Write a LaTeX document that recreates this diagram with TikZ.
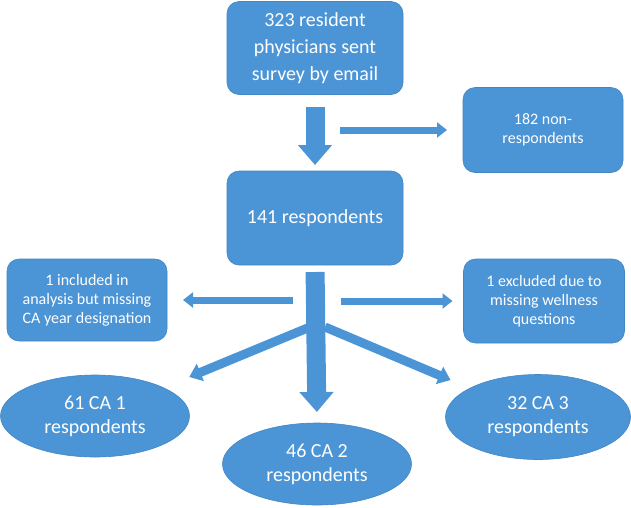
\documentclass[tikz,border=0pt]{standalone}
\usepackage{fontspec}
\setmainfont{Carlito}
\usepackage{xcolor}
\usetikzlibrary{shapes.geometric, arrows.meta, positioning, calc}
\definecolor{flowblue}{HTML}{4B94D6}
\definecolor{flowedge}{HTML}{4286C4}

\tikzset{
  flowbox/.style={rectangle, rounded corners=12pt, fill=flowblue, draw=flowedge,
    line width=0.6pt, text=white, align=center, inner sep=0pt, outer sep=0pt},
  flowoval/.style={ellipse, fill=flowblue, draw=flowedge, line width=0.6pt,
    text=white, align=center, inner sep=0pt, outer sep=0pt,
    font=\fontsize{20}{24}\selectfont},
  fatarrow/.style={draw=flowblue, line width=19pt, -{Triangle[width=33pt,length=20pt]}},
  sidearrow/.style={draw=flowblue, line width=7pt, -{Triangle[width=15pt,length=10pt]}},
  splitarrow/.style={draw=flowblue, line width=9pt, -{Triangle[width=18pt,length=12pt]}}
}

\begin{document}
\begin{tikzpicture}[x=1pt, y=-1pt]
    \useasboundingbox (0,0) rectangle (631,507);

    % Boxes
    \node[flowbox, minimum width=176pt, minimum height=93pt,
      font=\fontsize{20}{27}\selectfont] (sent) at (315,48)
      {323 resident\\physicians sent\\survey by email};
    \node[flowbox, minimum width=176pt, minimum height=94pt,
      font=\fontsize{20}{24}\selectfont] (resp) at (315,218)
      {141 respondents};
    \node[flowbox, minimum width=160pt, minimum height=85pt,
      font=\fontsize{16}{19}\selectfont] (nonresp) at (543,130)
      {182 non-\\respondents};
    \node[flowbox, minimum width=160pt, minimum height=82pt,
      font=\fontsize{16}{19}\selectfont] (incl) at (87,300)
      {1 included in\\analysis but missing\\CA year designation};
    \node[flowbox, minimum width=161pt, minimum height=84pt,
      font=\fontsize{16}{19}\selectfont] (excl) at (544,301)
      {1 excluded due to\\missing wellness\\questions};

    % CA groups
    \node[flowoval, minimum width=189pt, minimum height=82pt] (ca1) at (95,416)
      {61 CA 1\\respondents};
    \node[flowoval, minimum width=189pt, minimum height=82pt] (ca2) at (317,464)
      {46 CA 2\\respondents};
    \node[flowoval, minimum width=185pt, minimum height=85pt] (ca3) at (538,417)
      {32 CA 3\\respondents};

    % Arrows
    \draw[fatarrow, shorten <=12pt, shorten >=6pt] (sent.south) -- (resp.north);
    \draw[sidearrow, shorten <=25pt, shorten >=16pt] (resp.center |- nonresp.west) -- (nonresp.west);
    \draw[fatarrow, shorten <=7pt, shorten >=11pt] (resp.south) -- (ca2.north);
    \draw[sidearrow, shorten <=22pt, shorten >=16pt] (resp.south |- incl.east) -- (incl.east);
    \draw[sidearrow, shorten <=26pt, shorten >=11pt] (resp.south |- excl.west) -- (excl.west);

    \coordinate (fork) at ($(resp.south)+(3,62)$);
    \draw[splitarrow, shorten >=28pt] ([xshift=-8pt]fork) -- (ca1);
    \draw[splitarrow, shorten >=21pt] ([xshift=7pt]fork) -- (ca3);
\end{tikzpicture}
\end{document}
